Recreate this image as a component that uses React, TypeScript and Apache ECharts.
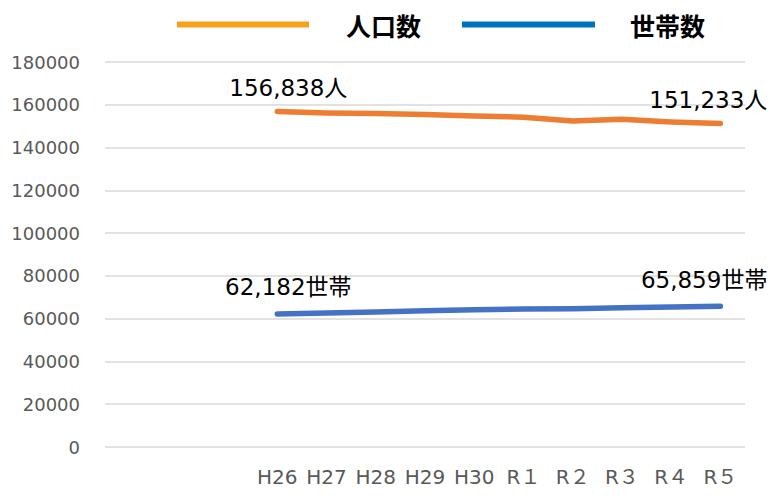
import React, { useEffect, useRef } from "react";
import * as echarts from "echarts";

const years = ["H26", "H27", "H28", "H29", "H30", "R１", "R２", "R３", "R４", "R５"];
const leadingBlankCount = 3;
const population = [156838, 156200, 155900, 155470, 154800, 154200, 152470, 153270, 152000, 151233];
const households = [62182, 62600, 63100, 63700, 64200, 64500, 64650, 65100, 65400, 65859];
const yTicks = { min: 0, max: 180000, interval: 20000 };

const LATIN = "'DejaVu Sans', 'Noto Sans CJK JP', sans-serif";
const CJK = "'Noto Sans CJK JP', sans-serif";

function buildData(values: number[], unit: string, dist: number) {
  const blanks = Array.from({ length: leadingBlankCount }, () => "-" as any);
  const items = values.map((v, i) => {
    const isFirst = i === 0;
    const isLast = i === values.length - 1;
    if (!isFirst && !isLast) return v;
    return {
      value: v,
      label: {
        show: true,
        position: "top",
        distance: dist,
        align: isLast ? "right" : "center",
        offset: isLast ? [47, 0] : [11, 0],
        formatter: () => v.toLocaleString("en-US") + unit,
        fontFamily: LATIN,
        fontSize: 23,
        color: "#000000",
      },
    };
  });
  return [...blanks, ...items];
}

export default function App() {
  const ref = useRef<HTMLDivElement>(null);
  useEffect(() => {
    if (!ref.current) return;
    const chart = echarts.init(ref.current, undefined, { renderer: "svg" });
    const categories = [...Array.from({ length: leadingBlankCount }, () => ""), ...years];
    const legendText = {
      fontFamily: CJK,
      fontSize: 25,
      fontWeight: "bold",
      color: "#000",
      lineHeight: 26,
    };
    chart.setOption({
      animation: false,
      backgroundColor: "#ffffff",
      legend: [
        {
          left: 177,
          top: 10,
          padding: 0,
          icon: "rect",
          itemWidth: 132,
          itemHeight: 6,
          data: [{ name: "人口数", itemStyle: { color: "#F7A21B" } }],
          textStyle: { ...legendText, padding: [0, 0, 3, 32] },
        },
        {
          left: 462,
          top: 10,
          padding: 0,
          icon: "rect",
          itemWidth: 133,
          itemHeight: 6,
          data: [{ name: "世帯数", itemStyle: { color: "#0070C0" } }],
          textStyle: { ...legendText, padding: [0, 0, 3, 30] },
        },
      ],
      grid: { left: 105, right: 35, top: 62, bottom: 52, containLabel: false },
      xAxis: {
        type: "category",
        data: categories,
        boundaryGap: true,
        axisLine: { show: false },
        axisTick: { show: false },
        axisLabel: {
          interval: 0,
          margin: 20,
          fontFamily: LATIN,
          fontSize: 20,
          color: "#595959",
        },
      },
      yAxis: {
        type: "value",
        min: yTicks.min,
        max: yTicks.max,
        interval: yTicks.interval,
        axisLine: { show: false },
        axisTick: { show: false },
        splitLine: { lineStyle: { color: "#D9D9D9", width: 1.5 } },
        axisLabel: {
          margin: 25,
          fontFamily: LATIN,
          fontSize: 18,
          color: "#595959",
          formatter: (v: number) => String(v),
        },
      },
      series: [
        {
          name: "人口数",
          type: "line",
          data: buildData(population, "人", 12),
          symbol: "circle",
          symbolSize: 0,
          showSymbol: true,
          lineStyle: { color: "#ED7D31", width: 5.5, cap: "round", join: "round" },
          itemStyle: { color: "#ED7D31" },
        },
        {
          name: "世帯数",
          type: "line",
          data: buildData(households, "世帯", 15),
          symbol: "circle",
          symbolSize: 0,
          showSymbol: true,
          lineStyle: { color: "#4472C4", width: 5.5, cap: "round", join: "round" },
          itemStyle: { color: "#4472C4" },
        },
      ],
    });
    return () => chart.dispose();
  }, []);
  return <div ref={ref} style={{ width: 780, height: 499, position: "absolute", left: 0, top: 0 }} />;
}
